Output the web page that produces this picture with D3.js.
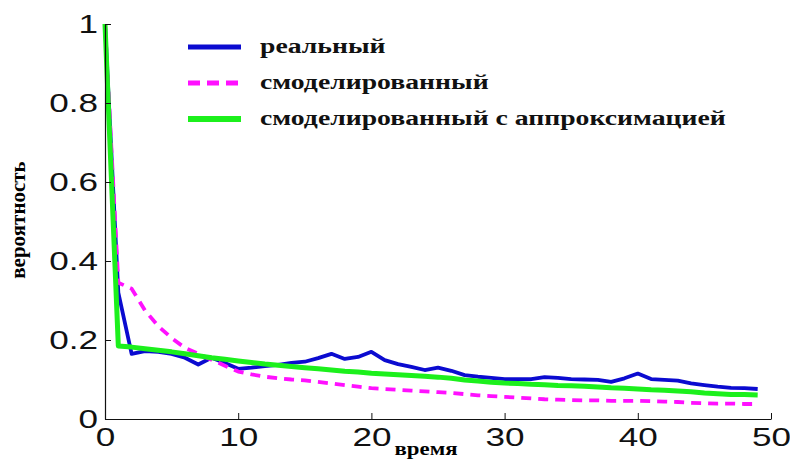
<!DOCTYPE html>
<html>
<head>
<meta charset="utf-8">
<script src="https://cdn.jsdelivr.net/npm/d3@7"></script>
<style>
  body { margin: 0; background: #fff; }
  svg { display: block; }
</style>
</head>
<body>
<div id="chart"></div>
<script>
// time steps
const time = [0, 1, 2, 3, 4, 5, 6, 7, 8, 9,
              10, 11, 12, 13, 14, 15, 16, 17, 18, 19,
              20, 21, 22, 23, 24, 25, 26, 27, 28, 29,
              30, 31, 32, 33, 34, 35, 36, 37, 38, 39,
              40, 41, 42, 43, 44, 45, 46, 47, 48, 49];

// реальный
const realValues = [1.00, 0.32, 0.165, 0.172, 0.170, 0.165, 0.155, 0.138, 0.155, 0.142,
                    0.127, 0.130, 0.134, 0.137, 0.142, 0.145, 0.154, 0.165, 0.152, 0.157,
                    0.170, 0.149, 0.139, 0.132, 0.124, 0.130, 0.122, 0.111, 0.107, 0.104,
                    0.101, 0.101, 0.101, 0.106, 0.104, 0.101, 0.100, 0.099, 0.094, 0.103,
                    0.115, 0.101, 0.099, 0.097, 0.090, 0.086, 0.082, 0.079, 0.078, 0.076];

// смоделированный
const modelValues = [1.00, 0.345, 0.330, 0.275, 0.235, 0.205, 0.180, 0.165, 0.150, 0.135,
                     0.120, 0.113, 0.107, 0.103, 0.100, 0.098, 0.094, 0.090, 0.086, 0.082,
                     0.078, 0.076, 0.074, 0.072, 0.070, 0.068, 0.066, 0.063, 0.060, 0.058,
                     0.056, 0.054, 0.052, 0.050, 0.049, 0.048, 0.047, 0.047, 0.046, 0.046,
                     0.046, 0.045, 0.044, 0.043, 0.041, 0.040, 0.039, 0.039, 0.038, 0.038];

// смоделированный с аппроксимацией
const approxValues = [1.00, 0.185, 0.182, 0.178, 0.174, 0.170, 0.165, 0.160, 0.155, 0.151,
                      0.147, 0.143, 0.139, 0.136, 0.133, 0.130, 0.127, 0.124, 0.121, 0.119,
                      0.116, 0.114, 0.112, 0.110, 0.108, 0.106, 0.103, 0.099, 0.096, 0.093,
                      0.091, 0.090, 0.088, 0.087, 0.085, 0.084, 0.083, 0.081, 0.079, 0.078,
                      0.076, 0.074, 0.073, 0.071, 0.069, 0.066, 0.064, 0.062, 0.062, 0.061];

const seriesNames = ["реальный", "смоделированный", "смоделированный с аппроксимацией"];
const xTicks = [0, 10, 20, 30, 40, 50];
const yTicks = [0, 0.2, 0.4, 0.6, 0.8, 1];

const width = 790, height = 459;
const margin = { top: 24, right: 19, bottom: 40, left: 105 };
const stretch = 1.35; // the picture is wider than its fonts

const series = [
  { name: seriesNames[0], values: realValues, color: "#0b0bd0", width: 3.8, dash: null },
  { name: seriesNames[1], values: modelValues, color: "#ff10ff", width: 3.8, dash: "10,7" },
  { name: seriesNames[2], values: approxValues, color: "#1cf01c", width: 5, dash: null }
];

const svg = d3.select("#chart").append("svg")
  .attr("width", width)
  .attr("height", height);

const x = d3.scaleLinear().domain([0, 50]).range([margin.left, width - margin.right]);
const y = d3.scaleLinear().domain([0, 1]).range([height - margin.bottom, margin.top]);

// lines
const line = d3.line()
  .x((d, i) => x(time[i]))
  .y(d => y(d));

svg.selectAll(".series")
  .data(series)
  .join("path")
  .attr("class", "series")
  .attr("d", d => line(d.values))
  .attr("fill", "none")
  .attr("stroke", d => d.color)
  .attr("stroke-width", d => d.width)
  .attr("stroke-dasharray", d => d.dash)
  .attr("stroke-linejoin", "round");

// axes
const xAxis = svg.append("g")
  .attr("transform", `translate(0,${y(0)})`)
  .call(d3.axisBottom(x).tickValues(xTicks).tickFormat(d3.format("d"))
    .tickSizeInner(-6).tickSizeOuter(0).tickPadding(9));

const yAxis = svg.append("g")
  .attr("transform", `translate(${x(0)},0)`)
  .call(d3.axisLeft(y).tickValues(yTicks).tickFormat(d => d === 0 ? "0" : d3.format(".1f")(d).replace(/\.0$/, ""))
    .tickSizeInner(-6).tickSizeOuter(0).tickPadding(7));

[xAxis, yAxis].forEach(g => {
  g.select(".domain").attr("stroke", "#111").attr("stroke-width", 1.2);
  g.selectAll(".tick line").attr("stroke", "#111");
  g.selectAll(".tick text")
    .attr("fill", "#111")
    .style("font-family", "'Liberation Sans', Arial, sans-serif")
    .style("font-size", "26px");
});

xAxis.selectAll(".tick text").attr("transform", `scale(${stretch},1)`);
yAxis.selectAll(".tick text")
  .attr("x", -7 / stretch)
  .attr("transform", `scale(${stretch},1)`);

// axis titles
svg.append("text")
  .attr("transform", `translate(426,455) scale(1.2,1)`)
  .attr("text-anchor", "middle")
  .style("font-family", "'Liberation Serif', 'Times New Roman', serif")
  .style("font-weight", "bold")
  .style("font-size", "19px")
  .text("время");

svg.append("text")
  .attr("transform", "translate(25,220) rotate(-90)")
  .attr("text-anchor", "middle")
  .style("font-family", "'Liberation Serif', 'Times New Roman', serif")
  .style("font-weight", "bold")
  .style("font-size", "21px")
  .text("вероятность");

// legend
const legend = svg.append("g").attr("transform", "translate(188,47)");
const item = legend.selectAll(".item")
  .data(series)
  .join("g")
  .attr("class", "item")
  .attr("transform", (d, i) => `translate(0,${i * 36})`);

item.append("line")
  .attr("x1", 0).attr("x2", 53)
  .attr("stroke", d => d.color)
  .attr("stroke-width", d => d.width + 1)
  .attr("stroke-dasharray", d => d.dash ? "12,7" : null);

item.append("text")
  .attr("transform", `translate(72,6) scale(1.26,1)`)
  .style("font-family", "'Liberation Serif', 'Times New Roman', serif")
  .style("font-weight", "bold")
  .style("font-size", "22px")
  .attr("fill", "#111")
  .text(d => d.name);
</script>
</body>
</html>
